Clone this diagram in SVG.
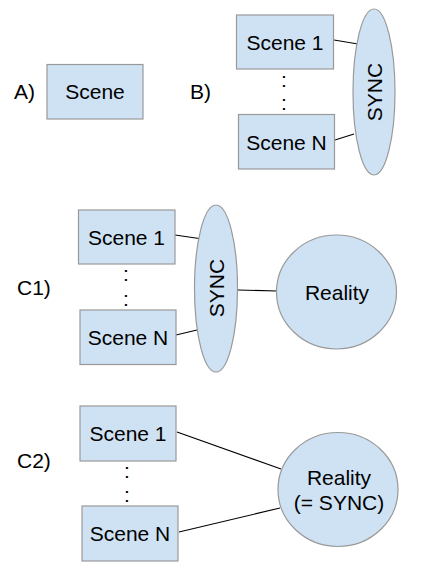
<svg xmlns="http://www.w3.org/2000/svg" width="422" height="582" viewBox="0 0 422 582">
<style>
  .n { fill: #cfe2f3; stroke: #999999; stroke-width: 1.2; }
  .t { font-family: "Liberation Sans", Arial, sans-serif; font-size: 21px; fill: #000; text-anchor: middle; }
  .l { font-family: "Liberation Sans", Arial, sans-serif; font-size: 21px; fill: #000; }
  .c { stroke: #000; stroke-width: 1.1; fill: none; }
</style>
<rect width="422" height="582" fill="#ffffff"/>

<g id="labels">
  <text class="l" x="14" y="99">A)</text>
  <text class="l" x="190" y="99">B)</text>
  <text class="l" x="17" y="295">C1)</text>
  <text class="l" x="17" y="468">C2)</text>
</g>

<g id="connectors">
  <line class="c" x1="334" y1="40" x2="358" y2="44"/>
  <line class="c" x1="335" y1="140" x2="354" y2="134"/>
  <line class="c" x1="175" y1="235" x2="199" y2="238.5"/>
  <line class="c" x1="176" y1="335" x2="197" y2="330"/>
  <line class="c" x1="238" y1="290" x2="277" y2="291"/>
  <line class="c" x1="177" y1="432" x2="281" y2="469"/>
  <line class="c" x1="179" y1="532" x2="280" y2="508"/>
</g>

<g id="a-scene">
  <rect class="n" x="47" y="64.5" width="96" height="54.5"/>
  <text class="t" x="95" y="99">Scene</text>
</g>

<g id="b-scene1">
  <rect class="n" x="236.5" y="15" width="97" height="54"/>
  <text class="t" x="285" y="49.5">Scene 1</text>
</g>
<g id="b-dots">
  <text class="t" x="284" y="86.5">:</text>
  <text class="t" x="284" y="110">:</text>
</g>
<g id="b-sceneN">
  <rect class="n" x="238.5" y="114.5" width="96" height="54.5"/>
  <text class="t" x="286.5" y="149.5">Scene N</text>
</g>
<g id="b-sync">
  <ellipse class="n" cx="374" cy="92" rx="21" ry="83"/>
  <text class="t" transform="translate(381.5,92) rotate(-90)" x="0" y="0">SYNC</text>
</g>

<g id="c1-scene1">
  <rect class="n" x="78.5" y="210" width="96.5" height="54"/>
  <text class="t" x="126.5" y="244.5">Scene 1</text>
</g>
<g id="c1-dots">
  <text class="t" x="126" y="280.5">:</text>
  <text class="t" x="126" y="306">:</text>
</g>
<g id="c1-sceneN">
  <rect class="n" x="80" y="310" width="96" height="54.5"/>
  <text class="t" x="128" y="344.5">Scene N</text>
</g>
<g id="c1-sync">
  <ellipse class="n" cx="216" cy="288.5" rx="21.5" ry="83.5"/>
  <text class="t" transform="translate(223.5,288) rotate(-90)" x="0" y="0">SYNC</text>
</g>
<g id="c1-reality">
  <ellipse class="n" cx="336.5" cy="292" rx="60" ry="57"/>
  <text class="t" x="337" y="300">Reality</text>
</g>

<g id="c2-scene1">
  <rect class="n" x="80" y="406" width="96" height="55"/>
  <text class="t" x="128" y="441">Scene 1</text>
</g>
<g id="c2-dots">
  <text class="t" x="127" y="478">:</text>
  <text class="t" x="127" y="502">:</text>
</g>
<g id="c2-sceneN">
  <rect class="n" x="82" y="506" width="96" height="55"/>
  <text class="t" x="130" y="541">Scene N</text>
</g>
<g id="c2-reality">
  <ellipse class="n" cx="338" cy="489.5" rx="60" ry="57"/>
  <text class="t" x="339" y="485">Reality</text>
  <text class="t" x="339" y="510">(= SYNC)</text>
</g>
</svg>
